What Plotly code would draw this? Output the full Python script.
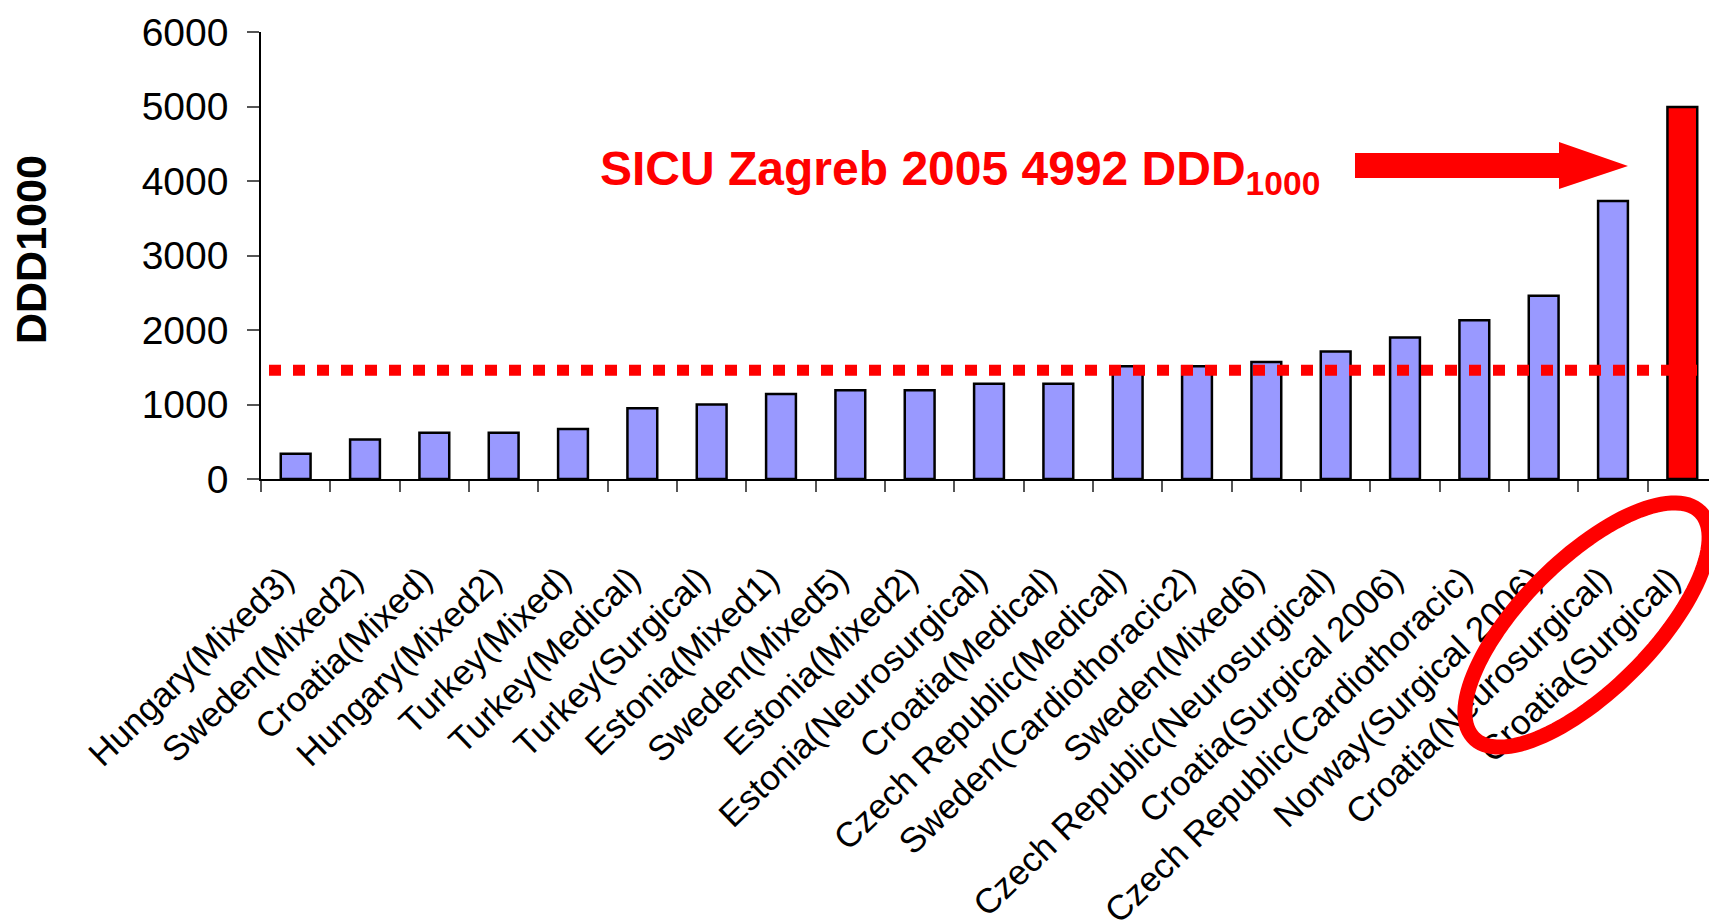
import numpy as np
import plotly.graph_objects as go

categories = [
    "Hungary(Mixed3)", "Sweden(Mixed2)", "Croatia(Mixed)", "Hungary(Mixed2)",
    "Turkey(Mixed)", "Turkey(Medical)", "Turkey(Surgical)", "Estonia(Mixed1)",
    "Sweden(Mixed5)", "Estonia(Mixed2)", "Estonia(Neurosurgical)", "Croatia(Medical)",
    "Czech Republic(Medical)", "Sweden(Cardiothoracic2)", "Sweden(Mixed6)",
    "Czech Republic(Neurosurgical)", "Croatia(Surgical 2006)",
    "Czech Republic(Cardiothoracic)", "Norway(Surgical 2006)",
    "Croatia(Neurosurgical)", "Croatia(Surgical)",
]
values = [340, 530, 620, 620, 670, 950, 1000, 1140, 1190, 1190, 1280, 1280,
          1515, 1515, 1570, 1710, 1900, 2130, 2460, 3730, 4992]
bar_colors = ["#9999FF"] * 20 + ["#FF0000"]
threshold = 1460
y_ticks = [0, 1000, 2000, 3000, 4000, 5000, 6000]
y_title = "<b>DDD1000</b>"
note_text = "<b>SICU Zagreb 2005 4992 DDD<sub>1000</sub></b>"

# page has an 8px body margin; the figure is sized to fill the rest
OFF = 8
W, H = 1717 - OFF, 924 - OFF
L, R, T, B = 261 - OFF, 0, 32 - OFF, 445
PW, PH = W - L - R, H - T - B

def px(x):  # page pixel -> paper
    return (x - OFF - L) / PW

def py(y):
    return (H - B - (y - OFF)) / PH

FONT = "Liberation Sans, Arial, sans-serif"

fig = go.Figure()
fig.add_trace(go.Bar(
    x=categories, y=values, width=0.43,
    marker=dict(color=bar_colors, line=dict(color="black", width=2.5)),
    showlegend=False,
))

# threshold dotted line
fig.add_shape(type="line", xref="paper", yref="y", x0=px(269), x1=1.0,
              y0=threshold, y1=threshold,
              line=dict(color="#FF0000", width=11, dash="12px,12px"))

# arrow
arrow_pts = [(1355, 153), (1559, 153), (1559, 142), (1628, 166),
             (1559, 189), (1559, 178), (1355, 178)]
path = "M " + " L ".join(f"{px(a):.5f},{py(b):.5f}" for a, b in arrow_pts) + " Z"
fig.add_shape(type="path", xref="paper", yref="paper", path=path,
              fillcolor="#FF0000", line=dict(color="#FF0000", width=0))

# ellipse around last labels
cx, cy, ea, eb, ang = 1587, 625, 160, 65, np.deg2rad(45)
t = np.linspace(0, 2 * np.pi, 120)
ex = cx + ea * np.cos(t) * np.cos(ang) - eb * np.sin(t) * np.sin(ang)
ey = cy - (ea * np.cos(t) * np.sin(ang) + eb * np.sin(t) * np.cos(ang))
epath = "M " + " L ".join(f"{px(a):.5f},{py(b):.5f}" for a, b in zip(ex, ey)) + " Z"
fig.add_shape(type="path", xref="paper", yref="paper", path=epath,
              line=dict(color="#FF0000", width=15), fillcolor="rgba(0,0,0,0)")

fig.add_annotation(text=note_text, xref="paper", yref="paper",
                   x=px(598), y=py(172), xanchor="left", yanchor="middle",
                   showarrow=False, font=dict(family=FONT, size=48, color="#FF0000"))

fig.add_annotation(text=y_title, xref="paper", yref="paper",
                   x=px(31), y=py(250), xanchor="center", yanchor="middle",
                   textangle=-90, showarrow=False,
                   font=dict(family=FONT, size=43, color="black"))

fig.update_layout(
    width=W, height=H,
    margin=dict(l=L, r=R, t=T, b=B, autoexpand=False),
    paper_bgcolor="white", plot_bgcolor="white",
    font=dict(family=FONT, color="black"),
)
fig.update_xaxes(
    type="category", tickangle=-44, tickson="boundaries",
    ticks="outside", ticklen=11, tickcolor="#555", tickwidth=1.5,
    showline=True, linecolor="black", linewidth=1.5,
    tickfont=dict(family=FONT, size=35, color="black"),
    ticklabelstandoff=64, ticklabelshift=-12, automargin=False, showgrid=False,
)
fig.update_yaxes(
    range=[0, 6000], tickvals=y_ticks, ticks="outside", ticklen=12,
    tickcolor="#555", tickwidth=1.5,
    showline=True, linecolor="black", linewidth=1.5, showgrid=False,
    zeroline=False, tickfont=dict(family=FONT, size=39, color="black"),
    ticklabelstandoff=11, automargin=False,
)

fig.write_html("out.html")
